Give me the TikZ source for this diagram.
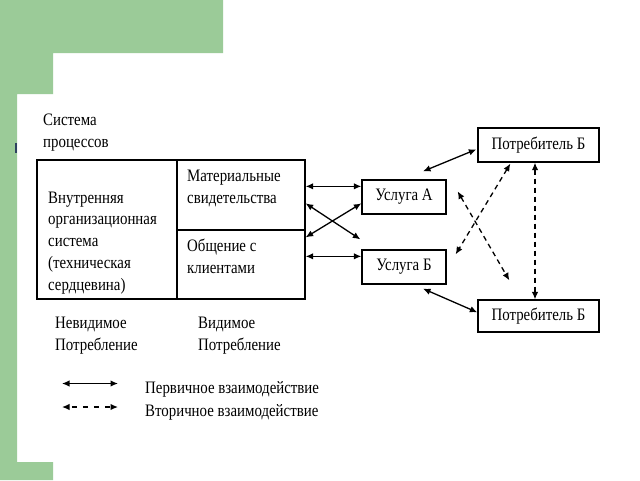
\documentclass[tikz,border=0pt]{standalone}
\usepackage{fontspec}
\setmainfont[FakeStretch=0.85]{Liberation Serif}
\usetikzlibrary{arrows.meta,calc}
\definecolor{slidegreen}{RGB}{155,203,152}
\definecolor{markblue}{RGB}{45,65,95}
\begin{document}
\begin{tikzpicture}[x=1pt,y=-1pt,
  box/.style={draw, line width=1.3pt, inner sep=0pt, font=\fontsize{17.5}{21.7}\selectfont},
  txt/.style={anchor=base west, inner sep=0pt, align=left, font=\fontsize{17.5}{21.7}\selectfont},
  prim/.style={{Latex[length=7.5pt,width=6.5pt]}-{Latex[length=7.5pt,width=6.5pt]}, line width=1.3pt},
  sec/.style={prim, dash pattern=on 5pt off 4pt},
  seclegend/.style={prim, dash pattern=on 5pt off 6pt, dash phase=-3pt}]
\useasboundingbox (0,0) rectangle (640,480);
\fill[white] (0,0) rectangle (640,480);
\fill[slidegreen] (0,0) -- (223,0) -- (223,53) -- (53,53) -- (53,94) -- (17,94) -- (17,462) -- (53,462) -- (53,480) -- (0,480) -- cycle;
\fill[markblue] (15,143) rectangle (17,153);

% system boxes
\node[box, minimum width=140pt, minimum height=139pt] (inner) at (107,229.5) {};
\node[box, minimum width=128pt, minimum height=70pt] (mat) at (241,195) {};
\node[box, minimum width=128pt, minimum height=69pt] (obsh) at (241,264.5) {};

% multi-line texts: anchored at the baseline of their last line
\node[txt] (sys) at (43,147) {Система\\процессов};
\node[txt] (intT) at (48,290) {Внутренняя\\организационная\\система\\(техническая\\сердцевина)};
\node[txt] (matT) at (187,203) {Материальные\\свидетельства};
\node[txt] (obT) at (187,273) {Общение с\\клиентами};

% services and consumers
\node[box, minimum width=84pt, minimum height=34pt] (ua) at (404,197) {Услуга А};
\node[box, minimum width=84pt, minimum height=34pt] (ub) at (404,267) {Услуга Б};
\node[box, minimum width=121pt, minimum height=34pt] (pt1) at (538.5,145) {Потребитель Б};
\node[box, minimum width=121pt, minimum height=32pt] (pt2) at (538.5,316) {Потребитель Б};

% primary interactions
\draw[prim] ($(mat.north east)+(0,27)$) -- ($(ua.north west)+(0,7)$);
\draw[prim] ($(mat.north east)+(0,44)$) -- ($(ub.north west)+(-1,-10)$);
\draw[prim] ($(obsh.north east)+(0,8)$) -- ($(ua.north west)+(0,24)$);
\draw[prim] ($(obsh.north east)+(0,27)$) -- ($(ub.north west)+(0,7)$);
\draw[prim] ($(ua.north)+(19,-8)$) -- ($(pt1.north west)+(-1,22)$);
\draw[prim] ($(ub.south)+(19,4)$) -- ($(pt2.north west)+(0,13)$);

% secondary interactions
\draw[sec] ($(ua.north east)+(11,12)$) -- ($(pt2.north west)+(32,-19)$);
\draw[sec] ($(pt1.south west)+(33,1)$) -- ($(ub.north east)+(9,5)$);
\draw[sec] ($(pt1.south)+(-3.5,0)$) -- ($(pt2.north)+(-3.5,0)$);

% captions
\node[txt] (inv) at (55,350) {Невидимое\\Потребление};
\node[txt] (vis) at (198,350) {Видимое\\Потребление};

% legend
\coordinate (l1a) at (62,383.5);
\coordinate (l1b) at (118,383.5);
\coordinate (l2a) at (62,407);
\coordinate (l2b) at (118,407);
\draw[prim] (l1a) -- (l1b);
\draw[seclegend] (l2a) -- (l2b);
\node[txt] (l1t) at (145,393) {Первичное взаимодействие};
\node[txt] (l2t) at (145,416) {Вторичное взаимодействие};
\end{tikzpicture}
\end{document}
